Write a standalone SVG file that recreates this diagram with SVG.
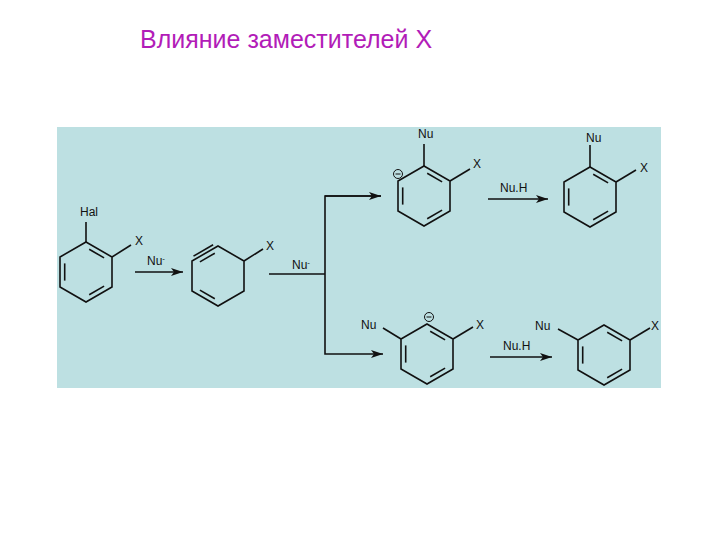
<svg xmlns="http://www.w3.org/2000/svg" width="720" height="540" viewBox="0 0 720 540">
<defs>
<style>
.b{stroke:#111;stroke-width:1.6;fill:none}
.t{font-family:"Liberation Sans",Arial,sans-serif;font-size:12px;fill:#111}
</style>
<path id="hex" d="M0,-30 L26,-15 L26,15 L0,30 L-26,15 L-26,-15 Z"/>
<g id="kek">
<use href="#hex"/>
<line x1="3.2" y1="-22.8" x2="18.1" y2="-14.1"/>
<line x1="18.1" y1="14.1" x2="3.2" y2="22.8"/>
<line x1="-21.3" y1="8.6" x2="-21.3" y2="-8.6"/>
</g>
<marker id="ar" viewBox="0 0 12 8" refX="12" refY="4" markerWidth="12" markerHeight="8" markerUnits="userSpaceOnUse" orient="auto"><path d="M0,0 L12,4 L0,8 L3,4 Z" fill="#111"/></marker>
</defs>
<rect width="720" height="540" fill="#fff"/>
<text x="140" y="48" font-family="Liberation Sans,Arial,sans-serif" font-size="25" fill="#b21cb8">Влияние заместителей X</text>
<rect x="57" y="127" width="604" height="261" fill="#bde0e2"/>

<g id="m1" class="b" transform="translate(86,272)">
<use href="#kek"/>
<line x1="0" y1="-30" x2="0" y2="-50"/>
<line x1="26" y1="-15" x2="45" y2="-27"/>
</g>
<text class="t" x="80" y="216">Hal</text>
<text class="t" x="135" y="245">X</text>

<g id="m2" class="b" transform="translate(218,276)">
<use href="#hex"/>
<line x1="-18.1" y1="-14.1" x2="-3.2" y2="-22.8"/>
<line x1="-24.5" y1="-19.9" x2="-4.9" y2="-31.2"/>
<line x1="-18.1" y1="14.1" x2="-3.2" y2="22.8"/>
<line x1="26" y1="-15" x2="45" y2="-27"/>
</g>
<text class="t" x="266" y="250">X</text>

<g id="m3" class="b" transform="translate(424,196)">
<use href="#kek"/>
<line x1="0" y1="-30" x2="0" y2="-52"/>
<line x1="26" y1="-15" x2="46" y2="-27"/>
<circle cx="-26" cy="-22" r="4.5" stroke-width="1"/>
<line x1="-28.5" y1="-22" x2="-23.5" y2="-22" stroke-width="1"/>
</g>
<text class="t" x="418" y="138">Nu</text>
<text class="t" x="473" y="168">X</text>

<g id="m4" class="b" transform="translate(590,197)">
<use href="#kek"/>
<line x1="0" y1="-30" x2="0" y2="-52"/>
<line x1="26" y1="-15" x2="46" y2="-27"/>
</g>
<text class="t" x="586" y="142">Nu</text>
<text class="t" x="640" y="172">X</text>

<g id="m5" class="b" transform="translate(427,354)">
<use href="#kek"/>
<line x1="-26" y1="-15" x2="-44" y2="-26"/>
<line x1="26" y1="-15" x2="46" y2="-27"/>
<circle cx="2" cy="-37" r="4.5" stroke-width="1"/>
<line x1="-0.5" y1="-37" x2="4.5" y2="-37" stroke-width="1"/>
</g>
<text class="t" x="361" y="329">Nu</text>
<text class="t" x="476" y="329">X</text>

<g id="m6" class="b" transform="translate(604,355)">
<use href="#kek"/>
<line x1="-26" y1="-15" x2="-46" y2="-26"/>
<line x1="26" y1="-15" x2="46" y2="-27"/>
</g>
<text class="t" x="535" y="330">Nu</text>
<text class="t" x="651" y="330">X</text>

<g id="connectors" class="b">
<line x1="135" y1="272" x2="183" y2="272" marker-end="url(#ar)"/>
<line x1="269" y1="274" x2="325" y2="274"/>
<polyline points="381,196 325,196 325,354 383,354" marker-end="url(#ar)"/>
<line x1="325" y1="196" x2="381" y2="196" marker-end="url(#ar)"/>
<line x1="488" y1="199" x2="548" y2="199" marker-end="url(#ar)"/>
<line x1="490" y1="357" x2="552" y2="357" marker-end="url(#ar)"/>
</g>
<text class="t" x="147" y="265">Nu<tspan font-size="8" dy="-4">-</tspan></text>
<text class="t" x="292" y="269">Nu<tspan font-size="8" dy="-4">-</tspan></text>
<text class="t" x="500" y="192">Nu.H</text>
<text class="t" x="503" y="350">Nu.H</text>
</svg>
